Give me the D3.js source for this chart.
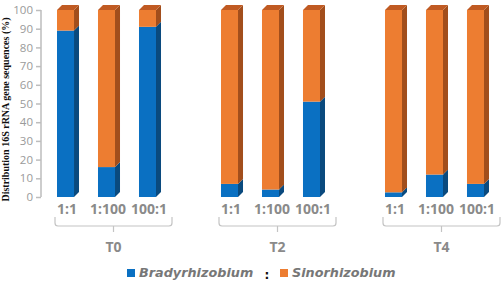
<!DOCTYPE html>
<html><head><meta charset="utf-8">
<script src="https://cdn.jsdelivr.net/npm/d3@7"></script>
<style>body{margin:0;background:#fff}svg{display:block}</style>
</head><body>
<script>
const groups = ["T0", "T2", "T4"];
const ratios = ["1:1", "1:100", "100:1"];
const bradyrhizobium = [[89, 16, 91], [7, 4, 51], [2.5, 12, 7]];
const sinorhizobium = [[11, 84, 9], [93, 96, 49], [97.5, 88, 93]];
const yTicks = [0, 10, 20, 30, 40, 50, 60, 70, 80, 90, 100];
const seriesNames = ["Bradyrhizobium", "Sinorhizobium"];

const W = 502, H = 282;
const svg = d3.select("body").append("svg").attr("width", W).attr("height", H);

const y = d3.scaleLinear().domain([0, 100]).range([197, 10]);
const x0 = d3.scaleBand().domain(groups).range([57, 484]).paddingInner(0.3963).paddingOuter(0);
const x1 = d3.scaleBand().domain(ratios).range([0, x0.bandwidth()]).paddingInner(0.585).paddingOuter(0);
const bw = x1.bandwidth();
const dx = 5, dy = 5;

const colors = {
  front: ["#0a70c2", "#ed7d31"],
  side: ["#0a4a7e", "#a24e1c"],
  top: ["#0a5a9c", "#c05a22"]
};

// Y axis
const axisG = svg.append("g").attr("transform", "translate(41,0)");
axisG.call(d3.axisLeft(y).tickValues(yTicks).tickSize(5).tickPadding(3));
axisG.select(".domain").attr("stroke", "#bdbdbd").attr("stroke-width", 1.5).attr("d", `M0,${y(0)}V${y(100)}`);
axisG.selectAll(".tick line").attr("stroke", "#bdbdbd").attr("stroke-width", 1.5);
axisG.selectAll(".tick text").attr("fill", "#9a9a9a").style("font-family", "Open Sans").style("font-size", "11.5px");

// Y title
svg.append("text")
  .attr("transform", `translate(9,${(y(0) + y(100)) / 2 + 6}) rotate(-90)`)
  .attr("text-anchor", "middle")
  .style("font-family", "Liberation Serif").style("font-weight", "bold").style("font-size", "10px")
  .attr("fill", "#111")
  .text("Distribution 16S rRNA gene sequences (%)");

// Bars
groups.forEach((g, gi) => {
  ratios.forEach((r, ri) => {
    const xl = x0(g) + x1(r);
    const vals = [bradyrhizobium[gi][ri], sinorhizobium[gi][ri]];
    let base = 0;
    vals.forEach((v, si) => {
      const y0 = y(base), yT = y(base + v);
      svg.append("path")
        .attr("d", `M${xl + bw},${y0}L${xl + bw + dx},${y0 - dy}L${xl + bw + dx},${yT - dy}L${xl + bw},${yT}Z`)
        .attr("fill", colors.side[si]);
      svg.append("rect").attr("x", xl).attr("y", yT).attr("width", bw).attr("height", y0 - yT)
        .attr("fill", colors.front[si]);
      base += v;
      if (si === vals.length - 1) {
        svg.append("path")
          .attr("d", `M${xl},${yT}L${xl + dx},${yT - dy}L${xl + bw + dx},${yT - dy}L${xl + bw},${yT}Z`)
          .attr("fill", colors.top[si]);
      }
    });
    svg.append("text").attr("x", xl + bw / 2 + 1.5).attr("y", 214)
      .attr("text-anchor", "middle")
      .style("font-family", "Open Sans").style("font-weight", "bold").style("font-size", "14px")
      .attr("fill", "#8a8a8a").text(r);
  });
  const bl = x0(g) - 2, br = x0(g) + x0.bandwidth() + 16, bm = (bl + br) / 2;
  const top = 217, hy = 226, rad = 3;
  svg.append("path")
    .attr("d", `M${bl},${top}V${hy - rad}Q${bl},${hy} ${bl + rad},${hy}H${br - rad}Q${br},${hy} ${br},${hy - rad}V${top}M${bm},${hy}V${232}`)
    .attr("fill", "none").attr("stroke", "#c4c4c4").attr("stroke-width", 1.2);
  svg.append("text").attr("x", bm).attr("y", 252)
    .attr("text-anchor", "middle")
    .style("font-family", "Open Sans").style("font-weight", "bold").style("font-size", "14px")
    .attr("fill", "#8a8a8a").text(g);
});

// Legend
const leg = svg.append("g");
leg.append("rect").attr("x", 127).attr("y", 269).attr("width", 8).attr("height", 8).attr("fill", colors.front[0]);
leg.append("text").attr("x", 139).attr("y", 277)
  .style("font-family", "DejaVu Sans").style("font-weight", "bold").style("font-style", "italic").style("font-size", "12.8px")
  .attr("fill", "#777").text(seriesNames[0]);
leg.append("text").attr("x", 267).attr("y", 279).attr("text-anchor", "middle")
  .style("font-family", "DejaVu Sans").style("font-weight", "bold").style("font-size", "12px")
  .attr("fill", "#111").text(":");
leg.append("rect").attr("x", 280).attr("y", 269).attr("width", 8).attr("height", 8).attr("fill", colors.front[1]);
leg.append("text").attr("x", 292).attr("y", 277)
  .style("font-family", "DejaVu Sans").style("font-weight", "bold").style("font-style", "italic").style("font-size", "12.8px")
  .attr("fill", "#777").text(seriesNames[1]);
</script>
</body></html>
